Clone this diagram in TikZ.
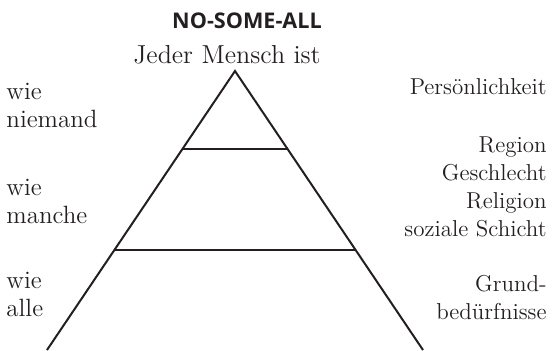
\documentclass[tikz,border=0pt]{standalone}
\usepackage{fontspec}
\newfontfamily\titlefont{Open Sans}
\usetikzlibrary{calc}

\definecolor{ink}{HTML}{231F20}
\tikzset{
    side/.style={line width=1pt, draw=ink},
    lefttext/.style={font=\fontsize{12.5}{14}\selectfont, text=ink, inner sep=0pt, align=left, anchor=base west},
    righttext/.style={font=\fontsize{11.5}{14}\selectfont, text=ink, inner sep=0pt, align=right, anchor=base east}
}

\begin{document}
\begin{tikzpicture}[x=0.5pt, y=-0.5pt]
    \useasboundingbox (0,0) rectangle (556,350);

    \node[font=\titlefont\bfseries\fontsize{10.8}{13}\selectfont, text=ink, inner sep=0pt, anchor=base] (title) at (247,28) {NO-SOME-ALL};
    \node[font=\fontsize{13}{15}\selectfont, text=ink, inner sep=0pt, anchor=base] (jeder) at (227,63) {Jeder Mensch ist};

    % pyramid
    \coordinate (top) at (235,71);
    \coordinate (bl) at (47,350);
    \coordinate (br) at (423,350);
    \coordinate (l1) at ($(top)!0.28!(bl)$);
    \coordinate (r1) at ($(top)!0.28!(br)$);
    \coordinate (l2) at ($(top)!0.6416!(bl)$);
    \coordinate (r2) at ($(top)!0.6416!(br)$);
    \draw[side] (bl) -- (top) -- (br);
    \draw[side] (l1) -- (r1);
    \draw[side] (l2) -- (r2);

    % base anchor sits on the last line
    \node[lefttext] (niemand) at (6,127) {wie\\niemand};
    \node[lefttext] (manche) at (6,223) {wie\\manche};
    \node[lefttext] (alle) at (6,316) {wie\\alle};

    \node[righttext] (person) at (547,94) {Persönlichkeit};
    \node[righttext] (gruppe) at (547,236) {Region\\Geschlecht\\Religion\\soziale Schicht};
    \node[righttext] (grund) at (547,319) {Grund-\\bedürfnisse};
\end{tikzpicture}
\end{document}
